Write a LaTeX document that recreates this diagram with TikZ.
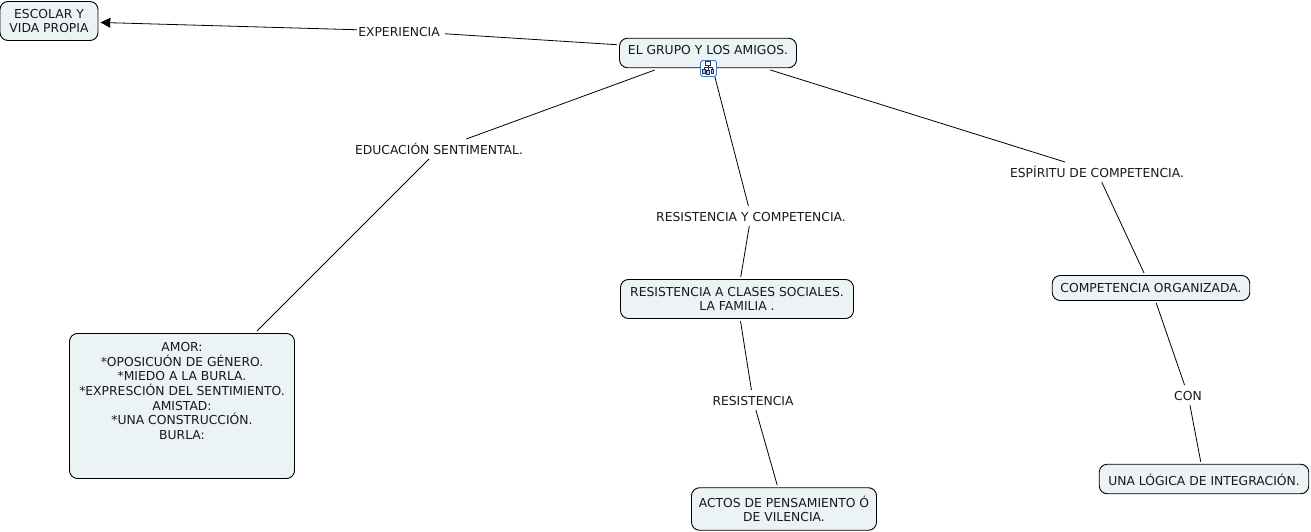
\documentclass[tikz,border=0pt]{standalone}
\usepackage{fontspec}
\setmainfont{DejaVu Sans}
\usetikzlibrary{arrows.meta}
\definecolor{boxfill}{HTML}{EBF3F5}
\definecolor{iconblue}{HTML}{3F78BE}
\definecolor{iconglyph}{HTML}{25305F}
\tikzset{
  x=1pt,y=-1pt,
  concept/.style={draw=black,line width=0.9pt,fill=boxfill,rounded corners=8pt,
    inner sep=0pt,outer sep=2.5pt,align=center,font=\fontsize{12.35}{14.67}\selectfont,text=black!90},
  linktext/.style={inner sep=0pt,outer sep=0pt,minimum height=20pt,align=center,
    text height=11.5pt,text depth=0pt,
    font=\fontsize{12.35}{14.67}\selectfont,text=black!90},
  hub/.style={inner sep=0pt,outer sep=0pt,minimum width=182pt,minimum height=39pt},
  link/.style={line width=0.8pt,black},
}
\begin{document}
\begin{tikzpicture}
\useasboundingbox (0,0) rectangle (1311,532);
\node[concept,minimum width=98pt,minimum height=39pt] (esc) at (49,21) {ESCOLAR Y\\VIDA PROPIA};
\node[concept,minimum width=177pt,minimum height=29.5pt,text height=8pt,text depth=5pt] (grp) at (708,53) {EL GRUPO Y LOS AMIGOS.};
\node[hub] (hub) at (708,50.5) {};
\node[concept,minimum width=225pt,minimum height=145pt] (amor) at (182,406) {AMOR:\\*OPOSICUÓN DE GÉNERO.\\*MIEDO A LA BURLA.\\*EXPRESCIÓN DEL SENTIMIENTO.\\AMISTAD:\\*UNA CONSTRUCCIÓN.\\BURLA:\\[15.3pt]~};
\node[concept,minimum width=233pt,minimum height=39pt] (res) at (737,299) {RESISTENCIA A CLASES SOCIALES.\\LA FAMILIA .};
\node[concept,minimum width=197.5pt,minimum height=25pt] (org) at (1151,288) {COMPETENCIA ORGANIZADA.};
\node[concept,minimum width=209.5pt,minimum height=29.5pt,text height=13pt,text depth=0pt] (una) at (1204,479) {UNA LÓGICA DE INTEGRACIÓN.};
\node[concept,minimum width=185pt,minimum height=42.5pt] (act) at (784,509) {ACTOS DE PENSAMIENTO Ó\\DE VILENCIA.};

\node[linktext,minimum width=88pt] (lexp) at (401,31) {EXPERIENCIA\hspace{4pt}};
\node[linktext,minimum width=172pt] (ledu) at (439,149) {EDUCACIÓN SENTIMENTAL.};
\node[linktext,minimum width=194pt] (lrc) at (751,216) {RESISTENCIA Y COMPETENCIA.};
\node[linktext,minimum width=179pt] (lesp) at (1097,172) {ESPÍRITU DE COMPETENCIA.};
\node[linktext,minimum width=86pt] (lres) at (753,400) {RESISTENCIA};
\node[linktext,minimum width=30pt] (lcon) at (1188,395) {CON};

\draw[link] (hub) -- (lexp);
\draw[link,-{Stealth[length=10pt,width=10pt,inset=0.5pt]}] (lexp) -- (esc);
\draw[link] (hub) -- (ledu);
\draw[link] (ledu) -- (amor);
\draw[link] (hub) -- (lrc);
\draw[link] (lrc) -- (res);
\draw[link] (res) -- (lres);
\draw[link] (lres) -- (act);
\draw[link] (hub) -- (lesp);
\draw[link] (lesp) -- (org);
\draw[link] (org) -- (lcon);
\draw[link] (lcon) -- (una);

% collapse icon on the central concept
\draw[iconblue,fill=white,line width=0.9pt,rounded corners=2.5pt] (700.5,60.5) rectangle (716.5,76.5);
\draw[iconglyph,line width=0.6pt] (708,64.5) -- (708,70) (704,67.5) -- (712.5,67.5) (704,67.5) -- (704,69.5) (712.5,67.5) -- (712.5,69.5);
\draw[iconglyph,line width=0.7pt,fill=white] (705.5,61.8) rectangle (710.5,65);
\draw[iconglyph,line width=0.7pt,fill=iconblue!40] (702.7,69.5) rectangle (705.2,73) (706.8,70.5) rectangle (709.3,74) (711.3,69.5) rectangle (713.8,73);
\end{tikzpicture}
\end{document}
